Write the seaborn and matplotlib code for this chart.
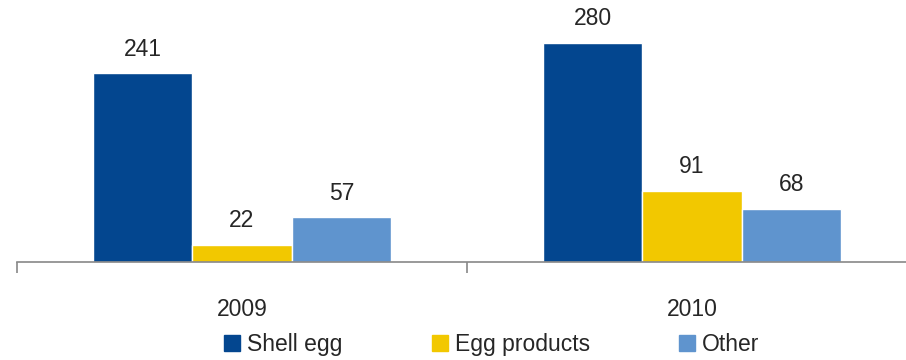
import pandas as pd
import matplotlib.pyplot as plt
import seaborn as sns

# データ
years = ["2009", "2010"]
categories = ["Shell egg", "Egg products", "Other"]
shell_egg = [241, 280]
egg_products = [22, 91]
other = [57, 68]
colors = ["#03468F", "#F2C800", "#5F94CE"]

df = pd.DataFrame({
    "year": years * 3,
    "category": [c for c in categories for _ in years],
    "value": shell_egg + egg_products + other,
})

sns.set_style("white")
plt.rcParams["font.family"] = ["Liberation Sans", "DejaVu Sans"]

fig = plt.figure(figsize=(9.06, 3.6), dpi=100)
ax = fig.add_axes([17 / 906, 1 - 262 / 360, 900 / 906, 235 / 360])

sns.barplot(data=df, x="year", y="value", hue="category", hue_order=categories,
            palette=colors, width=0.662, gap=0, saturation=1, ax=ax, legend=False)

for cont in ax.containers:
    ax.bar_label(cont, padding=9, fontsize=16.5)

ax.set_xlim(-0.5, 1.5)
ax.set_ylim(0, 300)
ax.set_xlabel("")
ax.set_ylabel("")
ax.set_yticks([])
for s in ["top", "right", "left"]:
    ax.spines[s].set_visible(False)
ax.spines["bottom"].set_color("#888888")
ax.spines["bottom"].set_linewidth(1.2)

ax.set_xticks([0, 1])
ax.set_xticklabels(years, fontsize=16.5)
ax.tick_params(axis="x", which="major", length=0, pad=26, bottom=True)
ax.set_xticks([-0.5, 0.5, 1.5], minor=True)
ax.tick_params(axis="x", which="minor", length=8, width=1.2, color="#888888",
               direction="out", bottom=True)

handles = [plt.Rectangle((0, 0), 1, 1, color=c) for c in colors]
fig.legend(handles, categories, loc="lower center", bbox_to_anchor=(0.543, -0.045),
           ncol=3, frameon=False, fontsize=16.5, handlelength=0.7, handleheight=0.7,
           handletextpad=0.3, columnspacing=3.9)

plt.savefig("out.png", dpi=100)
plt.close()
